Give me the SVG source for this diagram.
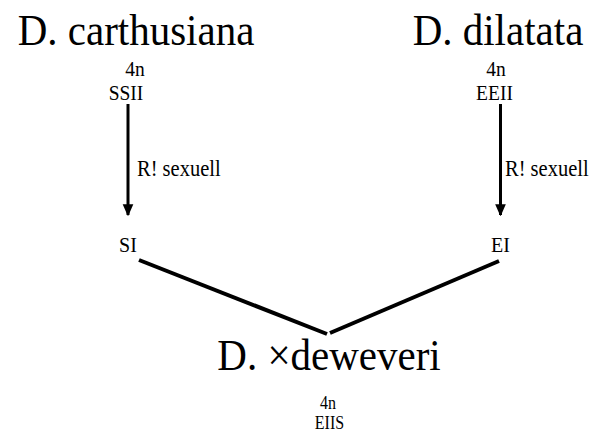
<svg xmlns="http://www.w3.org/2000/svg" width="599" height="434" viewBox="0 0 599 434">
<style>
text{font-family:"Liberation Serif","Times New Roman",serif;fill:#000}
.big{font-size:41px}
.sm{font-size:19.5px}
.bs{font-size:16px}
.lbl{font-size:20.5px}
.nd{font-size:20px}
.ln{stroke:#000;stroke-width:4;fill:none}
.arr{stroke:#000;stroke-width:3;fill:none}
</style>
<defs>
<marker id="ah" markerWidth="4" markerHeight="4.5" refX="4" refY="2" orient="auto" markerUnits="strokeWidth" viewBox="0 0 4.5 4">
<path d="M0,0 L4.5,2 L0,4 Z" fill="#000"/>
</marker>
</defs>
<rect width="599" height="434" fill="#fff"/>
<g id="carthusiana">
<text class="big" transform="translate(136,45) scale(1,1.1)" text-anchor="middle">D. carthusiana</text>
<text class="sm" transform="translate(135,76) scale(1,1.1)" text-anchor="middle">4n</text>
<text class="sm" transform="translate(126,100) scale(1,1.1)" text-anchor="middle">SSII</text>
</g>
<g id="dilatata">
<text class="big" transform="translate(498,45) scale(1,1.1)" text-anchor="middle">D. dilatata</text>
<text class="sm" transform="translate(496,76) scale(1,1.1)" text-anchor="middle">4n</text>
<text class="sm" transform="translate(494.5,100) scale(1,1.1)" text-anchor="middle">EEII</text>
</g>
<g id="SI">
<text class="nd" transform="translate(128,252) scale(1,1.1)" text-anchor="middle">SI</text>
</g>
<g id="EI">
<text class="nd" transform="translate(500.5,252) scale(1,1.1)" text-anchor="middle">EI</text>
</g>
<g id="deweveri">
<text class="big" transform="translate(329,370) scale(1,1.1)" text-anchor="middle">D. ×deweveri</text>
<text class="bs" transform="translate(328,409) scale(1,1.15)" text-anchor="middle">4n</text>
<text class="bs" transform="translate(329.5,429) scale(1,1.15)" text-anchor="middle">EIIS</text>
</g>
<g id="connectors">
<line class="arr" x1="128" y1="104" x2="128" y2="215" marker-end="url(#ah)"/>
<line class="arr" x1="500.5" y1="104" x2="500.5" y2="215" marker-end="url(#ah)"/>
<text class="lbl" transform="translate(137,176) scale(1,1.1)">R! sexuell</text>
<text class="lbl" transform="translate(505,176) scale(1,1.1)">R! sexuell</text>
<line class="ln" x1="139" y1="260" x2="327" y2="334"/>
<line class="ln" x1="499" y1="261" x2="330" y2="333"/>
</g>
</svg>
